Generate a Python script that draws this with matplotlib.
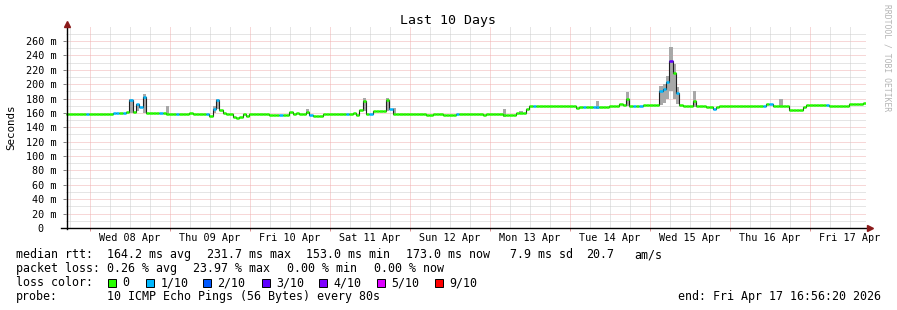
import datetime as dt
import numpy as np
import matplotlib
matplotlib.use("Agg")
import matplotlib.pyplot as plt
from matplotlib.patches import Rectangle

plt.rcParams['font.family'] = ['DejaVu Sans Mono']

# ---------------- data (hourly median RTT in ms, 10 days) ----------------
start_time = dt.datetime(2026, 4, 7, 16, 56, 20)
end_label = "end: Fri Apr 17 16:56:20 2026"
title = "Last 10 Days"

median_day0 = [158, 159, 159, 159, 159, 159, 159, 159, 159, 159, 159, 159,
               159, 159, 160.5, 160, 160, 160.5, 161, 178, 161, 172, 168, 182]
median_day1 = [160.5, 160.5, 160.5, 160.5, 160.5, 160.5, 159, 159, 159, 159, 158, 158,
               158, 160, 158, 158, 158, 158, 158, 156, 166, 178.5, 164, 160]
median_day2 = [158, 158, 154, 153, 155, 158, 156, 159, 159, 159, 159, 159,
               159, 157, 157, 157, 157, 157, 157, 161, 159, 160.5, 159, 159]
median_day3 = [161, 157, 156, 156, 156, 158, 158, 158, 158, 158, 158, 158,
               158, 159, 160.5, 157, 164, 176, 159, 159, 162, 162, 162, 162]
median_day4 = [178, 166, 159, 158, 158, 158, 158, 158, 158, 158, 158, 158,
               156.5, 156.5, 158, 158, 158, 156.5, 156.5, 156.5, 156.5, 159, 158, 158]
median_day5 = [159, 159, 159, 159, 159, 157, 159, 159, 159, 159, 159, 156.5,
               156.5, 156.5, 156.5, 160.5, 160.5, 160.5, 166, 169.5, 170, 170, 170, 170]
median_day6 = [170, 170, 170, 170, 170, 170, 170, 170, 170, 167.5, 168, 168,
               168, 168, 168, 168, 168, 168, 168, 170, 170, 170, 172, 171]
median_day7 = [180, 170, 169, 169, 169, 171, 171, 171, 171, 171, 190, 193,
               203.5, 231.7, 215, 187.5, 171, 169, 169, 169, 177, 170, 170, 170]
median_day8 = [168, 168, 165.5, 168, 169, 169, 169, 169, 169, 169, 169, 169,
               169, 169, 169, 169, 169, 169, 172, 172, 170, 170, 170, 170]
median_day9 = [170, 164.5, 164.5, 164.5, 164.5, 168, 171, 171, 171, 171, 171, 171,
               171, 170, 170, 170, 170, 170, 170, 172, 172, 172, 172, 174]

loss_day0 = [0, 0, 0, 0, 0, 0, 1, 0, 0, 0, 0, 0, 0, 0, 1, 1, 0, 1, 0, 1, 0, 1, 1, 1]
loss_day1 = [0, 0, 0, 0, 1, 0, 0, 0, 0, 1, 0, 0, 0, 0, 0, 0, 0, 0, 1, 0, 1, 1, 0, 0]
loss_day2 = [0, 0, 0, 0, 0, 0, 0, 0, 0, 0, 0, 0, 0, 0, 0, 0, 1, 0, 0, 0, 0, 0, 0, 0]
loss_day3 = [0, 1, 0, 0, 0, 0, 0, 0, 0, 0, 0, 0, 1, 0, 0, 0, 0, 0, 0, 1, 0, 0, 0, 0]
loss_day4 = [0, 1, 0, 0, 0, 0, 0, 0, 0, 0, 0, 0, 0, 0, 0, 0, 0, 0, 0, 0, 0, 1, 0, 0]
loss_day5 = [0, 0, 0, 0, 0, 0, 0, 0, 0, 0, 0, 0, 0, 0, 0, 0, 0, 0, 0, 0, 1, 0, 0, 0]
loss_day6 = [0, 0, 0, 0, 0, 0, 0, 0, 0, 0, 0, 1, 0, 0, 1, 1, 0, 0, 0, 0, 0, 0, 0, 0]
loss_day7 = [0, 0, 1, 0, 1, 0, 0, 0, 0, 0, 1, 1, 1, 3, 0, 1, 0, 0, 0, 0, 0, 0, 0, 0]
loss_day8 = [0, 0, 1, 0, 0, 0, 0, 0, 0, 0, 0, 0, 0, 0, 0, 0, 0, 1, 0, 1, 0, 0, 0, 0]
loss_day9 = [0, 0, 0, 0, 0, 0, 0, 0, 0, 0, 0, 0, 1, 0, 0, 0, 0, 0, 0, 0, 0, 0, 0, 0]

# smoke (ping spread) where it is visible: hour index, low, high (ms)
smoke_hour = [19, 21, 23, 30, 44, 45, 72, 89, 96, 98, 131, 136, 159, 168,
              178, 179, 180, 181, 182, 183, 188, 214]
smoke_low = [160, 162, 160, 158, 160, 165, 158, 162, 162, 157, 155, 159, 166, 169,
             171, 174, 180, 190, 180, 172, 168, 169]
smoke_high = [180, 173, 186, 170, 170, 180, 165, 181, 181, 167, 165, 163, 176, 189,
              197, 200, 212, 251, 228, 196, 190, 180]

day_labels = ['Wed 08 Apr', 'Thu 09 Apr', 'Fri 10 Apr', 'Sat 11 Apr', 'Sun 12 Apr',
              'Mon 13 Apr', 'Tue 14 Apr', 'Wed 15 Apr', 'Thu 16 Apr', 'Fri 17 Apr']
y_ticks = [0, 20, 40, 60, 80, 100, 120, 140, 160, 180, 200, 220, 240, 260]

loss_labels = ['0', '1/10', '2/10', '3/10', '4/10', '5/10', '9/10']
loss_colors = ['#26ff00', '#00b8ff', '#0059ff', '#5e00ff', '#7e00ff', '#dd00ff', '#ff0000']
loss_level = [0, 1, 2, 3, 4, 5, 9]

rtt_items = ["median rtt:", "164.2 ms avg", "231.7 ms max", "153.0 ms min",
             "173.0 ms now", "7.9 ms sd", "20.7", "am/s"]
loss_items = ["packet loss:", "0.26 % avg", "23.97 % max", "0.00 % min", "0.00 % now"]
color_items = ["loss color:"]
probe_items = ["probe:", "10 ICMP Echo Pings (56 Bytes) every 80s"]

# ---------------- assemble ----------------
median = np.array(median_day0 + median_day1 + median_day2 + median_day3 + median_day4 +
                  median_day5 + median_day6 + median_day7 + median_day8 + median_day9, float)
loss = (loss_day0 + loss_day1 + loss_day2 + loss_day3 + loss_day4 +
        loss_day5 + loss_day6 + loss_day7 + loss_day8 + loss_day9)
n_hours = len(median)
edges = np.arange(n_hours + 1)

W, H = 897, 310
fig = plt.figure(figsize=(W / 100, H / 100), dpi=100)
fig.patch.set_facecolor('white')

x0, x1, y0, y1 = 66, 866, 228, 26.6
ax = fig.add_axes([x0 / W, 1 - y0 / H, (x1 - x0) / W, (y0 - y1) / H])
ax.set_xlim(0, n_hours)
ax.set_ylim(0, 280)
for s in ax.spines.values():
    s.set_visible(False)
ax.set_facecolor('white')

# time helpers
first_midnight = dt.datetime(start_time.year, start_time.month, start_time.day) + dt.timedelta(days=1)
mid0 = (first_midnight - start_time).total_seconds() / 3600.0
midnights = [mid0 + 24 * k for k in range(10) if mid0 + 24 * k < n_hours]
six_hours = [h for h in np.arange(mid0 - 6, n_hours, 6) if h > 0]
noons = [mid0 + 12 + 24 * k for k in range(len(day_labels))]

# grid (dotted)
minor_style = dict(color='#cdcdcd', lw=0.72, dashes=(1, 1), zorder=1)
major_style = dict(color='#f0b0b0', lw=0.72, dashes=(1, 1), zorder=1)
for v in range(10, 280, 20):
    ax.axhline(v, **minor_style)
for v in y_ticks[1:]:
    ax.axhline(v, **major_style)
for h in six_hours:
    if min(abs(h - m) for m in midnights) > 0.5:
        ax.axvline(h, **minor_style)
for h in midnights:
    ax.axvline(h, **major_style)

# smoke
ax.bar(smoke_hour, np.array(smoke_high) - np.array(smoke_low), bottom=smoke_low,
       width=1, align='edge', color='#a8a8a8', linewidth=0, zorder=2)

# median: thin dark step line, then colored horizontal segments by loss
ax.stairs(median, edges, color='#202020', lw=0.8, baseline=None, zorder=3)
color_of = dict(zip(loss_level, loss_colors))
seg_colors = [color_of[l] for l in loss]
ax.hlines(median, edges[:-1], edges[1:], colors=seg_colors, lw=1.8, zorder=4,
          capstyle='butt')

# axes lines with arrows
ax.plot([-1.5, n_hours + 1.0], [0, 0], color='black', lw=1.0, clip_on=False, zorder=5)
ax.plot([0.3, 0.3], [-1.5, 283], color='black', lw=1.0, clip_on=False, zorder=5)
ax.plot([n_hours + 1.2], [0], marker='>', ms=4, color='#8b1a1a', clip_on=False, zorder=6)
ax.plot([0.3], [284], marker='^', ms=4, color='#8b1a1a', clip_on=False, zorder=6)

# ticks
ax.set_yticks(y_ticks, [("%d m" % v) if v else "0  " for v in y_ticks])
ax.tick_params(axis='y', length=2, width=0.7, color='#808080', pad=5, labelsize=7.3)
ax.set_xticks(noons, day_labels)
ax.tick_params(axis='x', length=0, pad=3.5, labelsize=7.3)
ax.set_xticks(midnights, minor=True)
ax.tick_params(axis='x', which='minor', length=2, width=0.7, color='#e09090')

ax.set_ylabel('Seconds', fontsize=7.8, labelpad=7)

# title and side text
fig.text(448 / W, 1 - 24 / H, title, ha='center', va='baseline', fontsize=9.5)
fig.text(886.5 / W, 1 - 4 / H, 'RRDTOOL / TOBI OETIKER', rotation=270, ha='center',
         va='top', fontsize=5.8, color='#b4b4b4')

# legend block (each item placed separately, as rrdtool does)
fs = 8.35
rows = [
    (258.3, rtt_items, [16, 106.5, 206.5, 306, 405.5, 510, 586, 634.5]),
    (272.2, loss_items, [16, 106.5, 193, 287, 373.5]),
    (286.1, color_items, [16]),
    (300.0, probe_items, [16, 106.5]),
]
for yb, items, xs in rows:
    for xx, item in zip(xs, items):
        fig.text(xx / W, 1 - yb / H, item, ha='left', va='baseline', fontsize=fs)
fig.text(880.5 / W, 1 - 300 / H, end_label, ha='right', va='baseline', fontsize=fs)

sq_x = [108.3, 146, 203.3, 261.7, 319.3, 377.3, 435]
for xs, lab, col in zip(sq_x, loss_labels, loss_colors):
    fig.patches.append(Rectangle((xs / W, 1 - 286.5 / H), 8 / W, 8 / H,
                                 transform=fig.transFigure, facecolor=col,
                                 edgecolor='black', lw=0.7))
    fig.text((xs + 14.2) / W, 1 - 286.1 / H, lab, ha='left', va='baseline', fontsize=fs)

fig.savefig('out.png', dpi=100)
